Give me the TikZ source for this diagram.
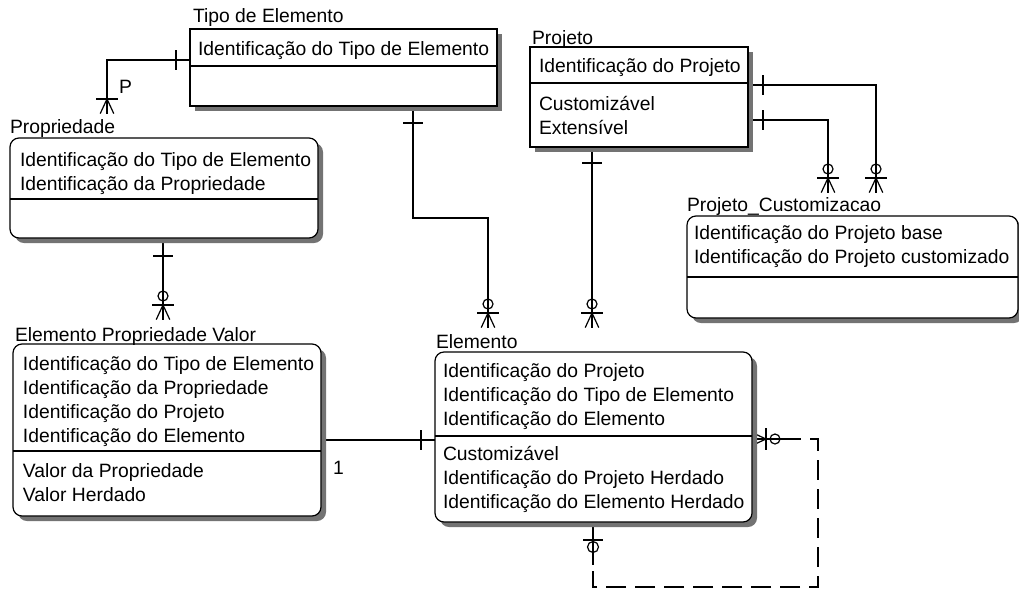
\documentclass[tikz,border=0pt]{standalone}
\usepackage{fontspec}
\setmainfont{Liberation Sans}
\usetikzlibrary{shadows,backgrounds}

\tikzset{
  conn/.style={line width=1.2pt, line cap=rect},
  entity/.style={draw, line width=1.2pt, fill=white, anchor=north west,
    inner sep=0pt, outer sep=0pt,
    drop shadow={shadow xshift=5pt, shadow yshift=-5pt, opacity=1, fill=black!55}},
  softbox/.style={rounded corners=9pt},
  attr/.style={anchor=base west, inner sep=0pt, outer sep=0pt},
  divider/.style={line width=1.2pt},
  % relationship end symbols; the connector runs along local +x into the entity
  pics/crowfoot/.style={code={
    \draw[conn] (-14pt,0pt) -- (0pt,6.5pt) (-14pt,0pt) -- (0pt,-6.5pt);
    \draw[conn] (-14pt,-10pt) -- (-14pt,10pt);}},
  pics/crowring/.style={code={
    \draw[conn] (-14pt,0pt) -- (0pt,6.5pt) (-14pt,0pt) -- (0pt,-6.5pt);
    \draw[conn] (-14pt,-10pt) -- (-14pt,10pt);
    \draw[line width=1.2pt] (-23pt,0pt) circle[radius=5pt];}},
  pics/bar/.style={code={\draw[conn] (0pt,-9pt) -- (0pt,9pt);}},
  pics/ring/.style={code={\draw[line width=1.2pt] (0pt,0pt) circle[radius=5.5pt];}},
}

\begin{document}
\begin{tikzpicture}[x=1pt, y=-1pt, every node/.style={font=\fontsize{19.3}{24}\selectfont}]
\useasboundingbox (0,0) rectangle (1019,592);

% ---------- entities ----------
% Tipo de Elemento
\node[entity, minimum width=307pt, minimum height=77pt] (tipo) at (190,29) {};
\node[attr] (tipo-t) at (193,22) {Tipo de Elemento};
\node[attr] (tipo-k1) at (198,55) {Identificação do Tipo de Elemento};
\draw[divider] (tipo.west |- 0,66) -- (tipo.east |- 0,66);

% Projeto
\node[entity, minimum width=218pt, minimum height=100pt] (proj) at (530,47) {};
\node[attr] (proj-t) at (532,44) {Projeto};
\node[attr] (proj-k1) at (539,72) {Identificação do Projeto};
\node[attr] (proj-a1) at (539,110) {Customizável};
\node[attr] (proj-a2) at (539,134) {Extensível};
\draw[divider] (proj.west |- 0,83) -- (proj.east |- 0,83);

% Propriedade
\node[entity, softbox, minimum width=308pt, minimum height=100pt] (prop) at (10,138) {};
\node[attr] (prop-t) at (10,133) {Propriedade};
\node[attr] (prop-k1) at (20,166) {Identificação do Tipo de Elemento};
\node[attr] (prop-k2) at (20,190) {Identificação da Propriedade};
\draw[divider] (prop.west |- 0,199) -- (prop.east |- 0,199);

% Projeto_Customizacao
\node[entity, softbox, minimum width=331pt, minimum height=102pt] (pcust) at (687,216) {};
\node[attr] (pcust-t) at (687,211) {Projeto\_Customizacao};
\node[attr] (pcust-k1) at (694,239) {Identificação do Projeto base};
\node[attr] (pcust-k2) at (694,263) {Identificação do Projeto customizado};
\draw[divider] (pcust.west |- 0,277) -- (pcust.east |- 0,277);

% Elemento Propriedade Valor
\node[entity, softbox, minimum width=308pt, minimum height=172pt] (epv) at (13,344) {};
\node[attr] (epv-t) at (15,341) {Elemento Propriedade Valor};
\foreach \txt [count=\i] in {Identificação do Tipo de Elemento,
    Identificação da Propriedade, Identificação do Projeto,
    Identificação do Elemento}
  \node[attr] (epv-k\i) at (23,{370+24*(\i-1)}) {\txt};
\node[attr] (epv-a1) at (23,477) {Valor da Propriedade};
\node[attr] (epv-a2) at (23,501) {Valor Herdado};
\draw[divider] (epv.west |- 0,451) -- (epv.east |- 0,451);

% Elemento
\node[entity, softbox, minimum width=317pt, minimum height=170pt] (elem) at (435,352) {};
\node[attr] (elem-t) at (436,348) {Elemento};
\foreach \txt [count=\i] in {Identificação do Projeto,
    Identificação do Tipo de Elemento, Identificação do Elemento}
  \node[attr] (elem-k\i) at (443,{377+24*(\i-1)}) {\txt};
\foreach \txt [count=\i] in {Customizável,
    Identificação do Projeto Herdado, Identificação do Elemento Herdado}
  \node[attr] (elem-a\i) at (443,{460+24*(\i-1)}) {\txt};
\draw[divider] (elem.west |- 0,436) -- (elem.east |- 0,436);

% ---------- relationships ----------
\begin{scope}[on background layer]
  % Tipo de Elemento -> Propriedade (P)
  \coordinate (propfoot) at (107,113);
  \draw[conn] (tipo.west |- 0,60) -| (propfoot);
  \pic at (176,60) {bar};
  \pic[rotate=-90] at (propfoot) {crowfoot};

  % Tipo de Elemento -> Elemento
  \coordinate (elemfootA) at (488,327);
  \draw[conn] (413,0 |- tipo.south) -- (413,218) -| (elemfootA);
  \pic[rotate=90] at (413,123) {bar};
  \pic[rotate=-90] at (elemfootA) {crowring};

  % Projeto -> Elemento
  \coordinate (elemfootB) at (592,327);
  \draw[conn] (592,0 |- proj.south) -- (elemfootB);
  \pic[rotate=90] at (592,163) {bar};
  \pic[rotate=-90] at (elemfootB) {crowring};

  % Projeto -> Projeto_Customizacao (two roles)
  \coordinate (custfootA) at (828,192);
  \coordinate (custfootB) at (876,192);
  \draw[conn] (proj.east |- 0,85) -| (custfootB);
  \draw[conn] (proj.east |- 0,120) -| (custfootA);
  \pic at (763,85) {bar};
  \pic at (763,120) {bar};
  \pic[rotate=-90] at (custfootA) {crowring};
  \pic[rotate=-90] at (custfootB) {crowring};

  % Propriedade -> Elemento Propriedade Valor
  \coordinate (epvfoot) at (163,319);
  \draw[conn] (163,0 |- prop.south) -- (epvfoot);
  \pic[rotate=90] at (163,256) {bar};
  \pic[rotate=-90] at (epvfoot) {crowring};

  % Elemento Propriedade Valor -- Elemento
  \draw[conn] (epv.east |- 0,440) -- (elem.west |- 0,440);
  \pic at (421,440) {bar};

  % Elemento -> Elemento (inheritance, non-identifying)
  \draw[line width=1.2pt, dash pattern=on 20pt off 9pt, dash phase=29pt]
    (elem.east |- 0,439) -- (818,439) -- (818,587) -- (593,587) -- (593,0 |- elem.south);
  \draw[conn] (elem.east |- 0,439) -- (781,439);
  \draw[conn] (593,564) -- (593,0 |- elem.south);
  \pic[rotate=180] at (elem.east |- 0,439) {crowring};
  \pic[rotate=90] at (593,540) {bar};
  \pic at (593,547) {ring};
\end{scope}

% ---------- labels ----------
\node[attr] (lblP) at (119,93) {P};
\node[attr] (lbl1) at (333,474) {1};
\end{tikzpicture}
\end{document}
